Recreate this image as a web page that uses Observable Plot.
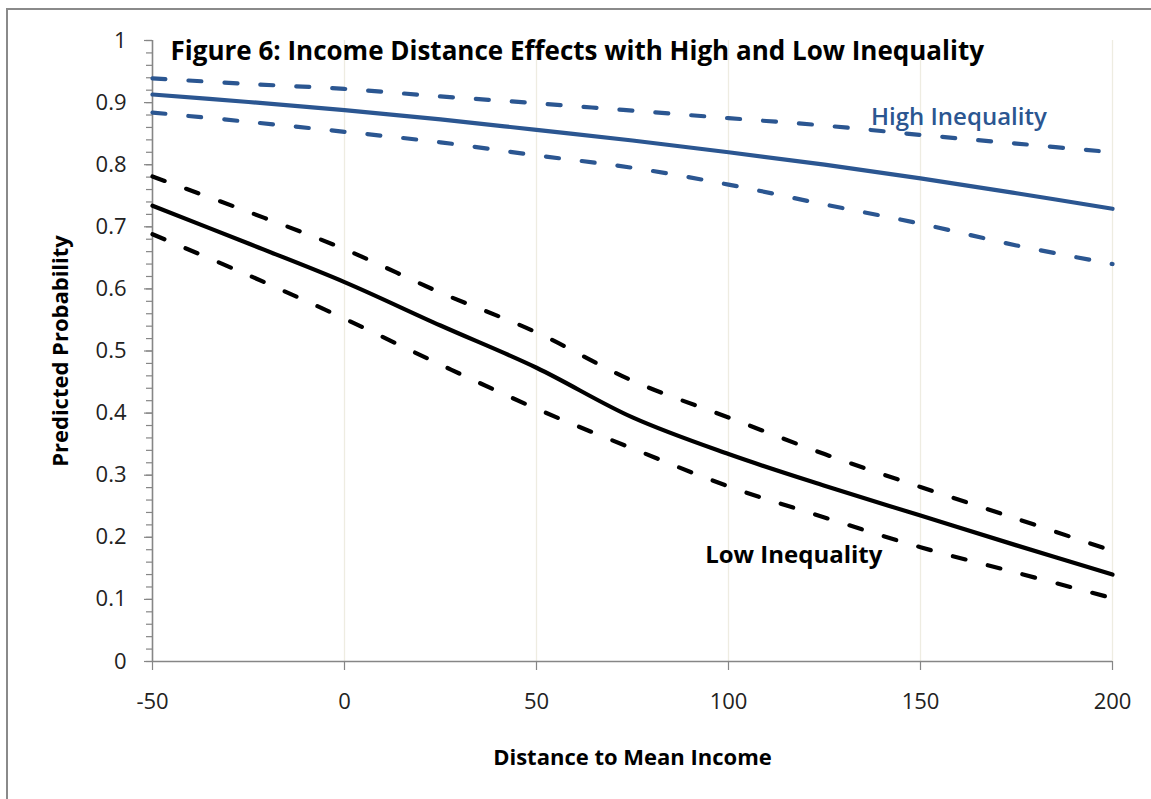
<!DOCTYPE html>
<html>
<head>
<meta charset="utf-8">
<script src="https://cdn.jsdelivr.net/npm/d3@7"></script>
<script src="https://cdn.jsdelivr.net/npm/@observablehq/plot@0.6"></script>
<style>
  html, body { margin: 0; padding: 0; background: #fff; }
  #wrap { position: relative; width: 1151px; height: 799px; overflow: hidden; background: #fff; }
  #border { position: absolute; left: 6px; top: 8px; width: 1300px; height: 1000px;
            border-left: 2px solid #8a8a8a; border-top: 2px solid #8a8a8a; }
  #chart { position: absolute; left: 0; top: 0; }
</style>
</head>
<body>
<div id="wrap"><div id="border"></div><div id="chart"></div></div>
<script>
// Distance to mean income (x) at which predicted probabilities were computed
const distance = [-50, -25, 0, 25, 50, 75, 100, 125, 150, 175, 200];

// High inequality: estimate with upper / lower bounds
const highEstimate = [0.913, 0.901, 0.888, 0.873, 0.856, 0.839, 0.820, 0.800, 0.778, 0.754, 0.729];
const highUpper    = [0.939, 0.930, 0.922, 0.910, 0.899, 0.887, 0.875, 0.863, 0.848, 0.834, 0.820];
const highLower    = [0.884, 0.869, 0.853, 0.836, 0.815, 0.795, 0.768, 0.736, 0.705, 0.670, 0.640];

// Low inequality: estimate with upper / lower bounds
const lowEstimate = [0.734, 0.673, 0.611, 0.541, 0.473, 0.393, 0.334, 0.283, 0.235, 0.187, 0.140];
const lowUpper    = [0.781, 0.724, 0.664, 0.594, 0.530, 0.452, 0.393, 0.334, 0.281, 0.230, 0.178];
const lowLower    = [0.688, 0.622, 0.552, 0.478, 0.407, 0.343, 0.282, 0.232, 0.184, 0.143, 0.102];

// Axis ticks
const xTicks = [-50, 0, 50, 100, 150, 200];
const xTickLabels = ["-50", "0", "50", "100", "150", "200"];
const xGrid = [0, 50, 100, 150, 200];
const yTicks = [0, 0.1, 0.2, 0.3, 0.4, 0.5, 0.6, 0.7, 0.8, 0.9, 1];
const yTickLabels = ["0", "0.1", "0.2", "0.3", "0.4", "0.5", "0.6", "0.7", "0.8", "0.9", "1"];
const yMinorTicks = d3.range(0, 51).map(i => i / 50);

// Text
const titleText = "Figure 6: Income Distance Effects with High and Low Inequality";
const xTitle = "Distance to Mean Income";
const yTitle = "Predicted Probability";
const seriesLabels = [
  {name: "High Inequality", x: 160, y: 0.876, color: "#2b5691", weight: 600},
  {name: "Low Inequality", x: 117, y: 0.171, color: "#000000", weight: 700}
];

const BLUE = "#2b5691";
const AXIS = "#868686";
const FONT = "'Open Sans', Lato, sans-serif";
const rows = (ys) => distance.map((x, i) => ({x, y: ys[i]}));

const dash = {strokeDasharray: "13,23", strokeLinecap: "round", strokeWidth: 4.2, curve: "catmull-rom"};
const solid = {strokeLinecap: "round", strokeWidth: 4.2, curve: "catmull-rom"};

const labelMark = (d) => Plot.text([d], {x: "x", y: "y", text: "name", fill: d.color, fontSize: 24,
                                         fontWeight: d.weight, textAnchor: "middle", lineAnchor: "middle"});

const chart = Plot.plot({
  width: 1151,
  height: 799,
  marginLeft: 152,
  marginRight: 39,
  marginTop: 40,
  marginBottom: 138,
  style: {fontFamily: FONT, color: "#222", background: "transparent"},
  x: {domain: [-50, 200]},
  y: {domain: [0, 1]},
  marks: [
    Plot.ruleX(xGrid, {stroke: "#eeece1", strokeWidth: 1.3}),
    Plot.axisY({ticks: yMinorTicks, tickSize: 6, tickFormat: () => "", label: null, stroke: AXIS, strokeWidth: 1.2}),
    Plot.axisY({ticks: yTicks, tickSize: 8, tickPadding: 18, tickFormat: (d, i) => yTickLabels[i],
                fontSize: 22, label: null, stroke: AXIS, strokeWidth: 1.2}),
    Plot.axisX({ticks: xTicks, tickSize: 9, tickPadding: 23, tickFormat: (d, i) => xTickLabels[i],
                fontSize: 22, label: null, stroke: AXIS, strokeWidth: 1.2}),
    Plot.ruleX([-50], {stroke: AXIS, strokeWidth: 1.6}),
    Plot.ruleY([0], {stroke: AXIS, strokeWidth: 1.6}),

    Plot.line(rows(highUpper), {x: "x", y: "y", stroke: BLUE, ...dash}),
    Plot.line(rows(highLower), {x: "x", y: "y", stroke: BLUE, ...dash}),
    Plot.line(rows(highEstimate), {x: "x", y: "y", stroke: BLUE, ...solid}),
    Plot.line(rows(lowUpper), {x: "x", y: "y", stroke: "#000", ...dash}),
    Plot.line(rows(lowLower), {x: "x", y: "y", stroke: "#000", ...dash}),
    Plot.line(rows(lowEstimate), {x: "x", y: "y", stroke: "#000", ...solid}),

    ...seriesLabels.map(labelMark),

    Plot.text([titleText], {frameAnchor: "top-left", dx: 18, dy: 11, textAnchor: "start",
                            lineAnchor: "middle", fontSize: 26, fontWeight: "bold", fill: "#000"}),
    Plot.text([xTitle], {frameAnchor: "bottom", dy: 96, textAnchor: "middle", lineAnchor: "middle",
                         fontSize: 22, fontWeight: "bold", fill: "#000"}),
    Plot.text([yTitle], {frameAnchor: "left", dx: -92, rotate: -90, textAnchor: "middle", lineAnchor: "middle",
                         fontSize: 22, fontWeight: "bold", fill: "#000"})
  ]
});

document.getElementById("chart").appendChild(chart);
</script>
</body>
</html>
